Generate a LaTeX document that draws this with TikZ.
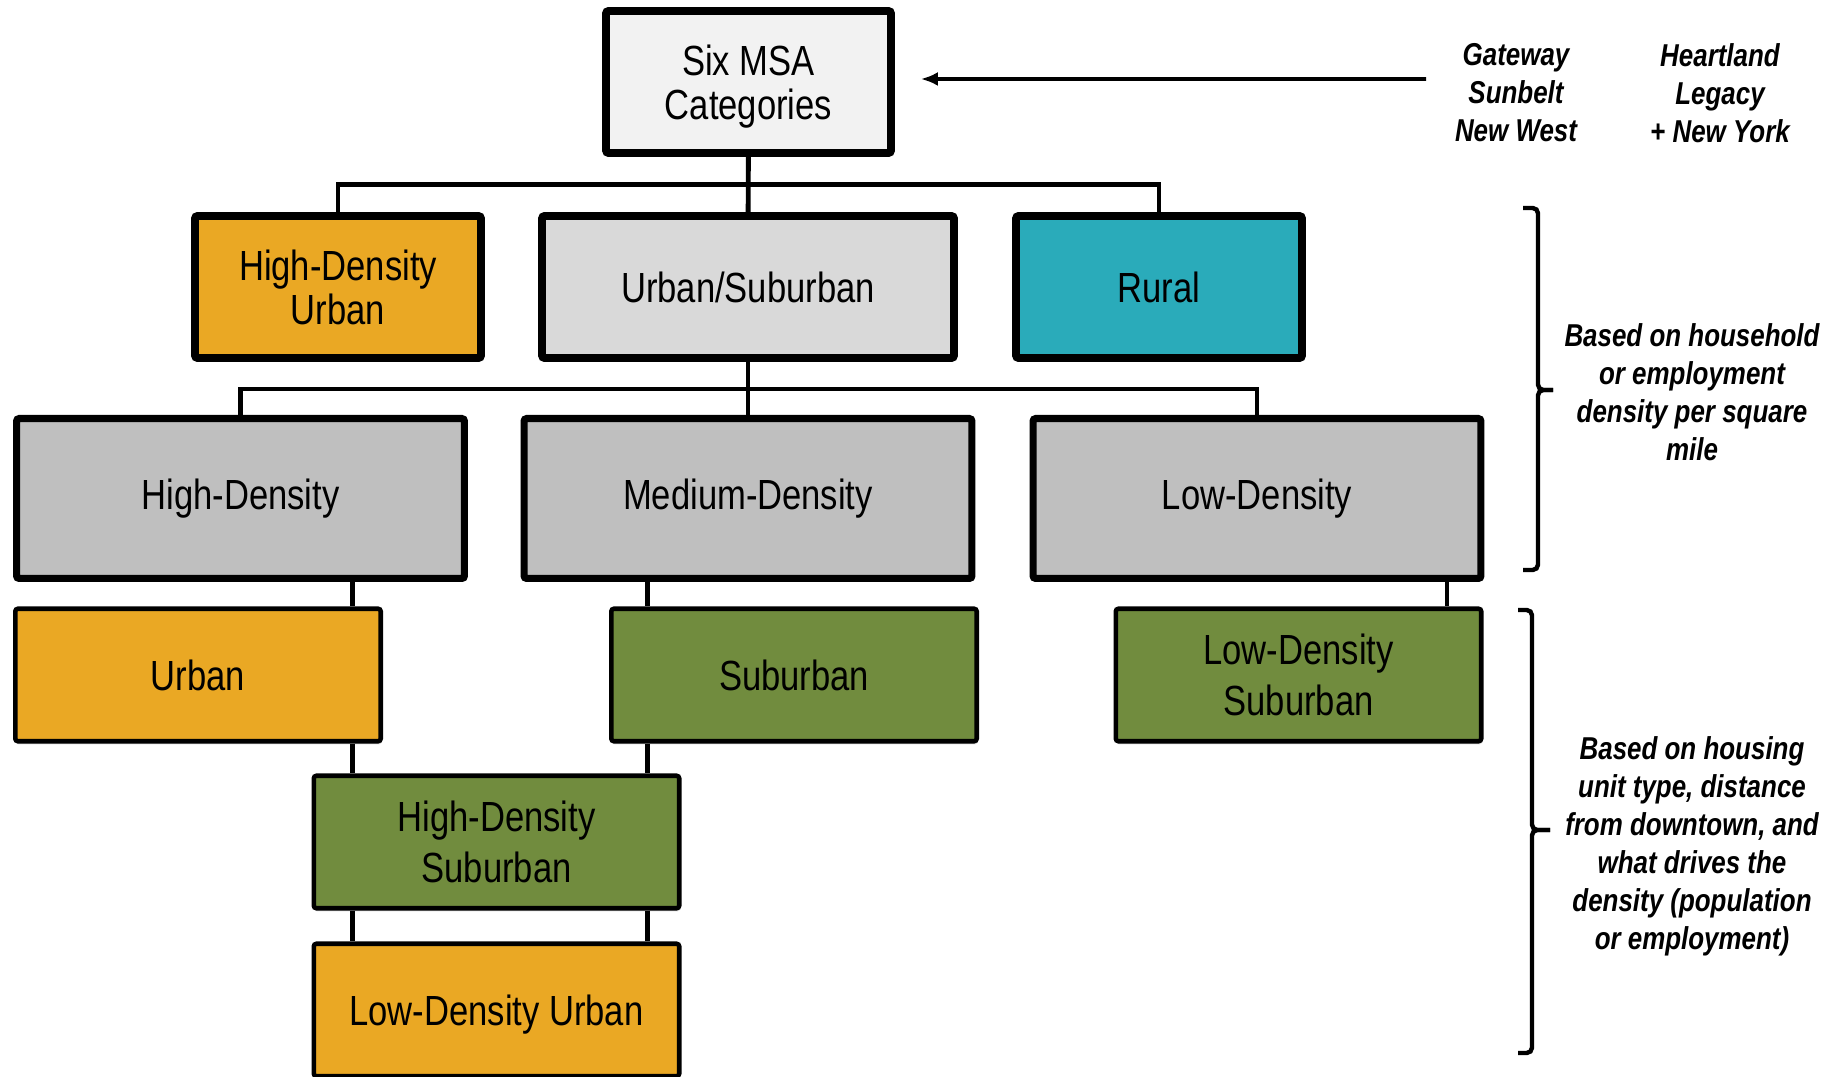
\documentclass[tikz,border=0pt]{standalone}
\usepackage{fontspec}
\setmainfont{Liberation Sans}[FakeStretch=0.82]
\usetikzlibrary{positioning, arrows.meta, shadows, calc}
\usepackage{xcolor}

\definecolor{paleGray}{HTML}{F2F2F2}
\definecolor{lightGray}{HTML}{D9D9D9}
\definecolor{midGray}{HTML}{BFBFBF}
\definecolor{urbanAmber}{HTML}{EAA824}
\definecolor{suburbGreen}{HTML}{718C3E}
\definecolor{ruralTeal}{HTML}{2AABBA}

\begin{document}
\begin{tikzpicture}[
    x=0.02cm, y=-0.02cm,
    box/.style={rectangle, draw=black, rounded corners=1.5pt, align=center,
        drop shadow={shadow xshift=0.5pt, shadow yshift=-1.8pt, opacity=0.25},
        font=\fontsize{24}{25}\selectfont},
    root/.style={box, line width=4.5pt, minimum width=5.7cm, minimum height=2.84cm, text depth=0pt},
    branch/.style={box, line width=4.5pt, minimum width=5.72cm, minimum height=2.84cm},
    density/.style={box, line width=4pt, fill=midGray, minimum width=8.96cm, minimum height=3.2cm},
    leaf/.style={box, line width=2.6pt, minimum width=7.31cm, minimum height=2.65cm, font=\fontsize{24}{29.5}\selectfont},
    note/.style={align=center, font=\fontsize{18}{21.6}\selectfont\bfseries\itshape},
    link/.style={draw=black, line width=2.8pt},
    pointer/.style={draw=black, line width=2pt, -{Latex[length=0.34cm, width=0.28cm]}},
    bracket/.style={draw=black, line width=2.5pt, rounded corners=3pt}
]
    \useasboundingbox (0,0) rectangle (1843,1077);

    % Top of the tree
    \node[root, fill=paleGray] (msa) at (748.5,82) {Six MSA\\Categories};

    % First split
    \node[branch, fill=urbanAmber] (hdurban) at (338,287) {High-Density\\Urban};
    \node[branch, fill=lightGray, minimum width=8.24cm] (urbsub) at (748,287) {Urban/Suburban};
    \node[branch, fill=ruralTeal] (rural) at (1159,287) {Rural};

    % Density split
    \node[density] (hd) at (240.5,498.5) {High-Density};
    \node[density] (md) at (748,498.5) {Medium-Density};
    \node[density] (ld) at (1257,498.5) {Low-Density};

    % Final categories
    \node[leaf, fill=urbanAmber] (urban) at (198,675) {Urban};
    \node[leaf, fill=suburbGreen] (suburban) at (794,675) {Suburban};
    \node[leaf, fill=suburbGreen] (ldsub) at (1298.5,675) {Low-Density\\Suburban};
    \node[leaf, fill=suburbGreen] (hdsub) at (496.5,842) {High-Density\\Suburban};
    \node[leaf, fill=urbanAmber, text depth=0pt] (ldurban) at (496.5,1010) {Low-Density Urban};

    % Tree connectors
    \coordinate (split1) at (748,184.5);
    \coordinate (split2) at (748,389);
    \draw[link] (msa) -- (urbsub);
    \draw[link] (hdurban.north) |- (split1) -| (rural.north);
    \draw[link] (urbsub) -- (md);
    \draw[link] (hd.north) |- (split2) -| (ld.north);

    \coordinate (leftdrop) at (352.5,0);
    \coordinate (middrop) at (647.5,0);
    \coordinate (rightdrop) at (1447,0);
    \draw[link] (hd.south -| leftdrop) -- (urban.north -| leftdrop);
    \draw[link] (urban.south -| leftdrop) -- (hdsub.north -| leftdrop);
    \draw[link] (hdsub.south -| leftdrop) -- (ldurban.north -| leftdrop);
    \draw[link] (md.south -| middrop) -- (suburban.north -| middrop);
    \draw[link] (suburban.south -| middrop) -- (hdsub.north -| middrop);
    \draw[link] (hdsub.south -| middrop) -- (ldurban.north -| middrop);
    \draw[link] (ld.south -| rightdrop) -- (ldsub.north -| rightdrop);

    % Region groups
    \node[note] (gateway) at (1516,93) {Gateway\\Sunbelt\\New West};
    \node[note] (heartland) at (1720,93) {Heartland\\Legacy\\+ New York};
    \coordinate (pointerstart) at (1426,79);
    \draw[pointer] (pointerstart) -- ([xshift=0.52cm, yshift=0.06cm]msa.east);

    % Brackets with their notes
    \draw[bracket] (1523,208) -| (1538,390) -- (1553,390);
    \draw[bracket] (1553,390) -- (1538,390) |- (1523,570);
    \node[note] (densitynote) at (1692,392) {Based on household\\or employment\\density per square\\mile};

    \draw[bracket] (1518,610) -| (1532,830) -- (1550,830);
    \draw[bracket] (1550,830) -- (1532,830) |- (1518,1053);
    \node[note] (housingnote) at (1692,846) {Based on housing\\unit type, distance\\from downtown, and\\what drives the\\density (population\\or employment)};

\end{tikzpicture}
\end{document}
